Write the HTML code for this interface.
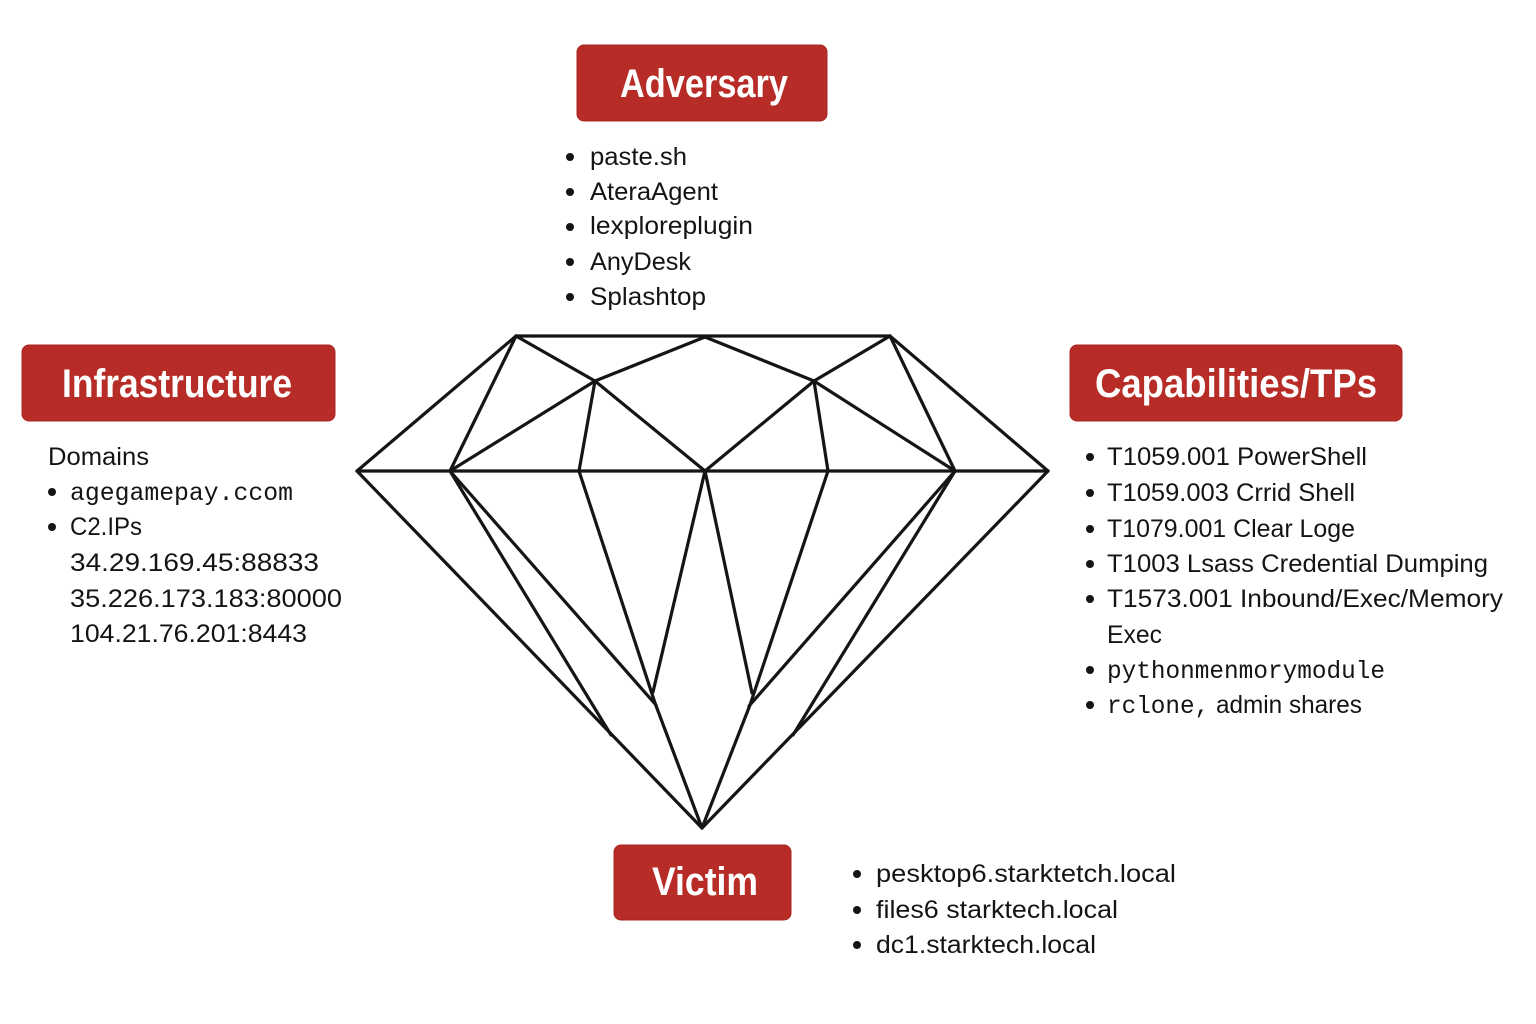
<!DOCTYPE html>
<html>
<head>
<meta charset="utf-8">
<style>
  html, body { margin:0; padding:0; background:#fff; }
  svg { display:block; }
  .hdr { font-family:"Liberation Sans", "DejaVu Sans", sans-serif; font-weight:bold; font-size:40px; fill:#fff; }
  .bd { font-family:"Liberation Sans", "DejaVu Sans", sans-serif; font-size:25px; fill:#141414; }
  .mono { font-family:"Liberation Mono", "DejaVu Sans Mono", monospace; }
</style>
</head>
<body>
<svg width="1536" height="1024" viewBox="0 0 1536 1024" xmlns="http://www.w3.org/2000/svg">
  <rect width="1536" height="1024" fill="#ffffff"/>

  <!-- Diamond -->
  <g stroke="#151515" stroke-width="3.2" stroke-linecap="round" stroke-linejoin="round" fill="none">
    <line x1="516" y1="336" x2="890" y2="336"/>
    <line x1="357" y1="471" x2="1048" y2="471"/>
    <line x1="516" y1="336" x2="357" y2="471"/>
    <line x1="516" y1="336" x2="450" y2="471"/>
    <line x1="516" y1="336" x2="595" y2="381"/>
    <line x1="595" y1="381" x2="705" y2="337"/>
    <line x1="705" y1="337" x2="814" y2="381"/>
    <line x1="814" y1="381" x2="890" y2="336"/>
    <line x1="890" y1="336" x2="955" y2="471"/>
    <line x1="890" y1="336" x2="1048" y2="471"/>
    <line x1="595" y1="381" x2="450" y2="471"/>
    <line x1="595" y1="381" x2="579" y2="471"/>
    <line x1="595" y1="381" x2="705" y2="471"/>
    <line x1="814" y1="381" x2="705" y2="471"/>
    <line x1="814" y1="381" x2="828" y2="471"/>
    <line x1="814" y1="381" x2="955" y2="471"/>
    <line x1="357" y1="471" x2="702" y2="828"/>
    <line x1="1048" y1="471" x2="702" y2="828"/>
    <line x1="450" y1="471" x2="611" y2="735"/>
    <line x1="450" y1="471" x2="656" y2="705"/>
    <polyline points="579,471 655,703 702,828"/>
    <line x1="705" y1="471" x2="653" y2="692"/>
    <line x1="705" y1="471" x2="752" y2="693"/>
    <polyline points="828,471 750,705 702,828"/>
    <line x1="955" y1="471" x2="749" y2="706"/>
    <line x1="955" y1="471" x2="793" y2="735"/>
  </g>

  <!-- Header boxes -->
  <g fill="#B72C26" stroke="#A82520" stroke-width="1">
    <rect x="577" y="45" width="250" height="76" rx="7"/>
    <rect x="22" y="345" width="313" height="76" rx="7"/>
    <rect x="1070" y="345" width="332" height="76" rx="7"/>
    <rect x="614" y="845" width="177" height="75" rx="7"/>
  </g>
  <text class="hdr" x="620" y="97" textLength="168" lengthAdjust="spacingAndGlyphs">Adversary</text>
  <text class="hdr" x="62" y="397" textLength="230" lengthAdjust="spacingAndGlyphs">Infrastructure</text>
  <text class="hdr" x="1095" y="397" textLength="282" lengthAdjust="spacingAndGlyphs">Capabilities/TPs</text>
  <text class="hdr" x="652" y="895" textLength="106" lengthAdjust="spacingAndGlyphs">Victim</text>

  <!-- Adversary list -->
  <g fill="#141414">
    <circle cx="570" cy="157" r="4"/>
    <circle cx="570" cy="192" r="4"/>
    <circle cx="570" cy="227" r="4"/>
    <circle cx="570" cy="262" r="4"/>
    <circle cx="570" cy="297" r="4"/>
  </g>
  <text class="bd" x="590" y="165" textLength="97" lengthAdjust="spacingAndGlyphs">paste.sh</text>
  <text class="bd" x="590" y="200" textLength="128" lengthAdjust="spacingAndGlyphs">AteraAgent</text>
  <text class="bd" x="590" y="234" textLength="163" lengthAdjust="spacingAndGlyphs">lexploreplugin</text>
  <text class="bd" x="590" y="270" textLength="101" lengthAdjust="spacingAndGlyphs">AnyDesk</text>
  <text class="bd" x="590" y="305" textLength="116" lengthAdjust="spacingAndGlyphs">Splashtop</text>

  <!-- Infrastructure list -->
  <g fill="#141414">
    <circle cx="52" cy="492" r="4"/>
    <circle cx="52" cy="527" r="4"/>
  </g>
  <text class="bd" x="48" y="465" textLength="101" lengthAdjust="spacingAndGlyphs">Domains</text>
  <text class="bd mono" x="70" y="500" textLength="223" lengthAdjust="spacingAndGlyphs">agegamepay.ccom</text>
  <text class="bd" x="70" y="535" textLength="72" lengthAdjust="spacingAndGlyphs">C2.IPs</text>
  <text class="bd" x="70" y="571" textLength="249" lengthAdjust="spacingAndGlyphs">34.29.169.45:88833</text>
  <text class="bd" x="70" y="607" textLength="272" lengthAdjust="spacingAndGlyphs">35.226.173.183:80000</text>
  <text class="bd" x="70" y="642" textLength="237" lengthAdjust="spacingAndGlyphs">104.21.76.201:8443</text>

  <!-- Capabilities list -->
  <g fill="#141414">
    <circle cx="1090" cy="457" r="4"/>
    <circle cx="1090" cy="493" r="4"/>
    <circle cx="1090" cy="529" r="4"/>
    <circle cx="1090" cy="564" r="4"/>
    <circle cx="1090" cy="599" r="4"/>
    <circle cx="1090" cy="670" r="4"/>
    <circle cx="1090" cy="705" r="4"/>
  </g>
  <text class="bd" x="1107" y="465" textLength="260" lengthAdjust="spacingAndGlyphs">T1059.001 PowerShell</text>
  <text class="bd" x="1107" y="501" textLength="248" lengthAdjust="spacingAndGlyphs">T1059.003 Crrid Shell</text>
  <text class="bd" x="1107" y="537" textLength="248" lengthAdjust="spacingAndGlyphs">T1079.001 Clear Loge</text>
  <text class="bd" x="1107" y="572" textLength="381" lengthAdjust="spacingAndGlyphs">T1003 Lsass Credential Dumping</text>
  <text class="bd" x="1107" y="607" textLength="396" lengthAdjust="spacingAndGlyphs">T1573.001 Inbound/Exec/Memory</text>
  <text class="bd" x="1107" y="643" textLength="55" lengthAdjust="spacingAndGlyphs">Exec</text>
  <text class="bd mono" x="1107" y="678" textLength="278" lengthAdjust="spacingAndGlyphs">pythonmenmorymodule</text>
  <text class="bd" x="1107" y="713" textLength="255" lengthAdjust="spacingAndGlyphs"><tspan class="mono">rclone,</tspan> admin shares</text>

  <!-- Victim list -->
  <g fill="#141414">
    <circle cx="857" cy="874" r="4"/>
    <circle cx="857" cy="910" r="4"/>
    <circle cx="857" cy="945" r="4"/>
  </g>
  <text class="bd" x="876" y="882" textLength="300" lengthAdjust="spacingAndGlyphs">pesktop6.starktetch.local</text>
  <text class="bd" x="876" y="918" textLength="242" lengthAdjust="spacingAndGlyphs">files6 starktech.local</text>
  <text class="bd" x="876" y="953" textLength="220" lengthAdjust="spacingAndGlyphs">dc1.starktech.local</text>
</svg>
</body>
</html>
